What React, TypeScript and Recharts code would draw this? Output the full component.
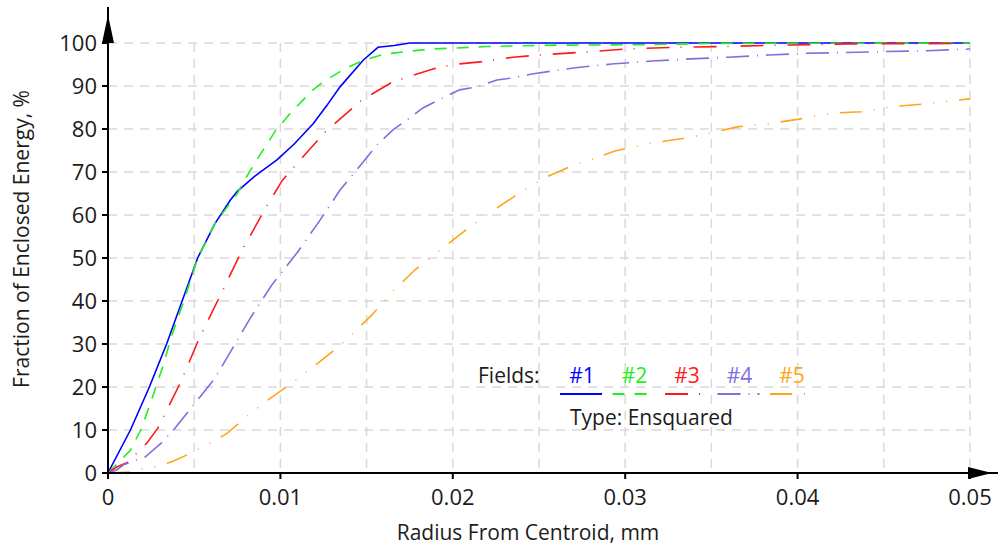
import React from "react";
import {
  LineChart,
  Line,
  XAxis,
  YAxis,
  CartesianGrid,
  Legend,
} from "recharts";

// ---------- data ----------
const field1 = [
  { x: 0, y: 0 }, { x: 0.0013, y: 10 }, { x: 0.0024, y: 20 }, { x: 0.0034, y: 30 },
  { x: 0.0043, y: 40 }, { x: 0.0052, y: 50 }, { x: 0.0062, y: 58 }, { x: 0.0071, y: 63.5 },
  { x: 0.0075, y: 65.5 }, { x: 0.0085, y: 69 }, { x: 0.0098, y: 72.8 }, { x: 0.0108, y: 76.5 },
  { x: 0.0119, y: 81.2 }, { x: 0.0127, y: 85.5 }, { x: 0.01346, y: 89.8 }, { x: 0.0148, y: 96 },
  { x: 0.01566, y: 99 }, { x: 0.0166, y: 99.4 }, { x: 0.0175, y: 100 }, { x: 0.05, y: 100 },
];
const field2 = [
  { x: 0, y: 0 }, { x: 0.0013, y: 5.3 }, { x: 0.0019, y: 10 }, { x: 0.0024, y: 15.5 },
  { x: 0.0032, y: 25 }, { x: 0.0037, y: 32 }, { x: 0.0044, y: 40 }, { x: 0.0052, y: 50 },
  { x: 0.0062, y: 58 }, { x: 0.0075, y: 65 }, { x: 0.0082, y: 70 }, { x: 0.0089, y: 74.5 },
  { x: 0.0097, y: 79.5 }, { x: 0.0105, y: 83.3 }, { x: 0.0118, y: 88.8 }, { x: 0.0125, y: 91 },
  { x: 0.0136, y: 93.7 }, { x: 0.0147, y: 95.8 }, { x: 0.016, y: 97.4 }, { x: 0.0173, y: 98 },
  { x: 0.0187, y: 98.6 }, { x: 0.02, y: 98.8 }, { x: 0.022, y: 99.2 }, { x: 0.026, y: 99.5 },
  { x: 0.031, y: 99.6 }, { x: 0.035, y: 99.9 }, { x: 0.05, y: 100 },
];
const field3 = [
  { x: 0, y: 0 }, { x: 0.0005, y: 1.4 }, { x: 0.00116, y: 2.5 }, { x: 0.00226, y: 7 },
  { x: 0.0029, y: 10.5 }, { x: 0.0042, y: 21 }, { x: 0.0053, y: 31.4 }, { x: 0.0066, y: 42 },
  { x: 0.0078, y: 52 }, { x: 0.0092, y: 62 }, { x: 0.0101, y: 68 }, { x: 0.0113, y: 73.5 },
  { x: 0.0126, y: 79.3 }, { x: 0.0147, y: 86.7 }, { x: 0.0164, y: 90.7 }, { x: 0.0173, y: 92 },
  { x: 0.0189, y: 94 }, { x: 0.02, y: 95 }, { x: 0.0216, y: 95.6 }, { x: 0.0235, y: 96.7 },
  { x: 0.025, y: 97.2 }, { x: 0.028, y: 98 }, { x: 0.03, y: 98.6 }, { x: 0.033, y: 99 },
  { x: 0.036, y: 99.2 }, { x: 0.039, y: 99.5 }, { x: 0.043, y: 99.8 }, { x: 0.05, y: 99.9 },
];
const field4 = [
  { x: 0, y: 0 }, { x: 0.0005, y: 0.7 }, { x: 0.0009, y: 1.9 }, { x: 0.00215, y: 3.7 },
  { x: 0.0031, y: 7 }, { x: 0.0038, y: 10 }, { x: 0.0046, y: 14 }, { x: 0.0052, y: 17 },
  { x: 0.0062, y: 22 }, { x: 0.00766, y: 32 }, { x: 0.0083, y: 36.3 }, { x: 0.0095, y: 43.7 },
  { x: 0.011, y: 51.4 }, { x: 0.0123, y: 58.8 }, { x: 0.01346, y: 65.8 }, { x: 0.0148, y: 72.3 },
  { x: 0.0156, y: 76.3 }, { x: 0.01653, y: 79.8 }, { x: 0.01734, y: 82.1 }, { x: 0.01827, y: 84.9 },
  { x: 0.01914, y: 86.7 }, { x: 0.0204, y: 89.1 }, { x: 0.0214, y: 89.8 }, { x: 0.02256, y: 91.4 },
  { x: 0.0235, y: 91.9 }, { x: 0.0246, y: 92.8 }, { x: 0.027, y: 94.2 }, { x: 0.0292, y: 95.1 },
  { x: 0.0315, y: 95.8 }, { x: 0.0338, y: 96.3 }, { x: 0.036, y: 96.7 }, { x: 0.0383, y: 97.2 },
  { x: 0.0405, y: 97.6 }, { x: 0.0428, y: 97.8 }, { x: 0.045, y: 98 }, { x: 0.0475, y: 98.2 },
  { x: 0.05, y: 98.6 },
];
const field5 = [
  { x: 0, y: 0 }, { x: 0.0013, y: 0.2 }, { x: 0.002, y: 1 }, { x: 0.0028, y: 1.5 },
  { x: 0.0037, y: 2.6 }, { x: 0.0048, y: 4.6 }, { x: 0.0061, y: 7.3 }, { x: 0.0069, y: 9.2 },
  { x: 0.0078, y: 12.3 }, { x: 0.0091, y: 16.5 }, { x: 0.0107, y: 21 }, { x: 0.012, y: 25 },
  { x: 0.0135, y: 29.8 }, { x: 0.0153, y: 36.7 }, { x: 0.0166, y: 42.6 }, { x: 0.0178, y: 47.2 },
  { x: 0.0194, y: 52.3 }, { x: 0.0206, y: 56 }, { x: 0.0222, y: 60.7 }, { x: 0.0236, y: 64.4 },
  { x: 0.0253, y: 68.6 }, { x: 0.0269, y: 71.4 }, { x: 0.028, y: 72.8 }, { x: 0.0294, y: 74.9 },
  { x: 0.0315, y: 76.7 }, { x: 0.0338, y: 78.1 }, { x: 0.035, y: 79.1 }, { x: 0.0365, y: 80.5 },
  { x: 0.0386, y: 81.4 }, { x: 0.0401, y: 82.3 }, { x: 0.042, y: 83.7 }, { x: 0.0437, y: 84 },
  { x: 0.0457, y: 85.3 }, { x: 0.0473, y: 85.8 }, { x: 0.0493, y: 86.7 }, { x: 0.05, y: 87 },
];

const xTicks = [0, 0.005, 0.01, 0.015, 0.02, 0.025, 0.03, 0.035, 0.04, 0.045, 0.05];
const xLabelTicks = [0, 0.01, 0.02, 0.03, 0.04, 0.05];
const yTicks = [0, 10, 20, 30, 40, 50, 60, 70, 80, 90, 100];

const fieldNames = ["#1", "#2", "#3", "#4", "#5"];
const fieldColors = ["#0000ff", "#22ee22", "#ff1a1a", "#7f6fe0", "#ffa51a"];
const fieldDashes = ["", "12 10", "23 11 1 12", "23 8 1 8", "22 12 1 12 1 12"];
const seriesData = [field1, field2, field3, field4, field5];

const xTitle = "Radius From Centroid, mm";
const yTitle = "Fraction of Enclosed Energy, %";
const legendTitle = "Fields:";
const legendType = "Type: Ensquared";

// ---------- layout ----------
const W = 999;
const H = 547;
const X_AXIS_H = 30;
const M = { top: 43, right: 29, bottom: 74 - X_AXIS_H, left: 0 };
const Y_AXIS_W = 108;
const PLOT_L = M.left + Y_AXIS_W;
const PLOT_B = H - M.bottom - X_AXIS_H;
const PLOT_R = W - M.right;
const PLOT_T = M.top;
const FONT = "'Open Sans', 'Noto Sans', sans-serif";
const TXT = "#1c1c1c";

const XTick = (props: any) => {
  const { x, y, payload } = props;
  const v = payload.value;
  const show = xLabelTicks.some((t) => Math.abs(t - v) < 1e-9);
  if (!show) return null;
  return (
    <g>
      <line x1={x} y1={y - 8} x2={x} y2={y - 2} stroke="#000" strokeWidth={2} />
      <text x={x} y={y + 24} textAnchor="middle" fontSize={22} fontFamily={FONT} fill={TXT}>
        {v === 0 ? "0" : v.toFixed(2)}
      </text>
    </g>
  );
};

const YTick = (props: any) => {
  const { x, y, payload } = props;
  return (
    <text x={x} y={y + 8} textAnchor="end" fontSize={22} fontFamily={FONT} fill={TXT}>
      {payload.value}
    </text>
  );
};

const XTitle = (props: any) => {
  const vb = props.viewBox || {};
  const cx = vb.x + vb.width / 2 - 11;
  return (
    <text x={cx} y={PLOT_B + 67} textAnchor="middle" fontSize={21} fontFamily={FONT} fill={TXT}>
      {xTitle}
    </text>
  );
};

const YTitle = (props: any) => {
  const vb = props.viewBox || {};
  const cy = vb.y + vb.height / 2 - 19;
  const cx = 29;
  return (
    <text
      x={cx}
      y={cy}
      textAnchor="middle"
      fontSize={21}
      fontFamily={FONT}
      fill={TXT}
      transform={`rotate(-90, ${cx}, ${cy})`}
    >
      {yTitle}
    </text>
  );
};

const LegendBox = () => {
  const itemX = (i: number) => 90 + i * 52.5;
  return (
    <svg width={360} height={80} style={{ display: "block" }}>
      <text x={8} y={27} fontSize={21} fontFamily={FONT} fill={TXT}>
        {legendTitle}
      </text>
      {fieldNames.map((n, i) => (
        <g key={n}>
          <text x={itemX(i) + 22} y={27} textAnchor="middle" fontSize={21} fontFamily={FONT} fill={fieldColors[i]}>
            {n}
          </text>
          <line
            x1={itemX(i)}
            y1={38}
            x2={itemX(i) + 42}
            y2={38}
            stroke={fieldColors[i]}
            strokeWidth={2}
            strokeDasharray={fieldDashes[i] || undefined}
          />
        </g>
      ))}
      <text x={100} y={69} fontSize={21} fontFamily={FONT} fill={TXT}>
        {legendType}
      </text>
    </svg>
  );
};

const AxisArrows = () => (
  <svg
    width={W}
    height={H}
    style={{ position: "absolute", left: 0, top: 0, pointerEvents: "none" }}
  >
    <line x1={PLOT_L} y1={PLOT_B} x2={PLOT_L} y2={7} stroke="#000" strokeWidth={2} />
    <polygon
      points={`${PLOT_L},15 ${PLOT_L - 6},${PLOT_T} ${PLOT_L + 6},${PLOT_T}`}
      fill="#000"
    />
    <line x1={PLOT_L} y1={PLOT_B} x2={998} y2={PLOT_B} stroke="#000" strokeWidth={2} />
    <polygon
      points={`${PLOT_R - 2},${PLOT_B - 6} ${PLOT_R - 2},${PLOT_B + 6} 992,${PLOT_B}`}
      fill="#000"
    />
  </svg>
);

export default function App() {
  return (
    <div style={{ position: "absolute", left: 0, top: 0, width: W, height: H, background: "#fff" }}>
      <LineChart width={W} height={H} margin={M}>
        <CartesianGrid stroke="#d9d9d9" strokeWidth={1.5} strokeDasharray="9 7" />
        <XAxis
          dataKey="x"
          type="number"
          domain={[0, 0.05]}
          ticks={xTicks}
          interval={0}
          height={X_AXIS_H}
          tick={<XTick />}
          tickLine={false}
          axisLine={{ stroke: "#000", strokeWidth: 2 }}
          allowDataOverflow
          label={{ content: <XTitle /> }}
        />
        <YAxis
          type="number"
          dataKey="y"
          domain={[0, 100]}
          ticks={yTicks}
          interval={0}
          width={Y_AXIS_W}
          tick={<YTick />}
          tickSize={6}
          tickMargin={5}
          tickLine={{ stroke: "#000", strokeWidth: 2 }}
          axisLine={{ stroke: "#000", strokeWidth: 2 }}
          label={{ content: <YTitle /> }}
        />
        <Legend
          layout="horizontal"
          verticalAlign="middle"
          align="center"
          content={<LegendBox />}
          wrapperStyle={{ left: 470, top: 356, width: 360, height: 80 }}
        />
        {seriesData.map((d, i) => (
          <Line
            key={fieldNames[i]}
            data={d}
            dataKey="y"
            name={fieldNames[i]}
            type="linear"
            stroke={fieldColors[i]}
            strokeWidth={1.6}
            strokeDasharray={fieldDashes[i] || undefined}
            dot={false}
            activeDot={false}
            isAnimationActive={false}
          />
        ))}
      </LineChart>
      <AxisArrows />
    </div>
  );
}
